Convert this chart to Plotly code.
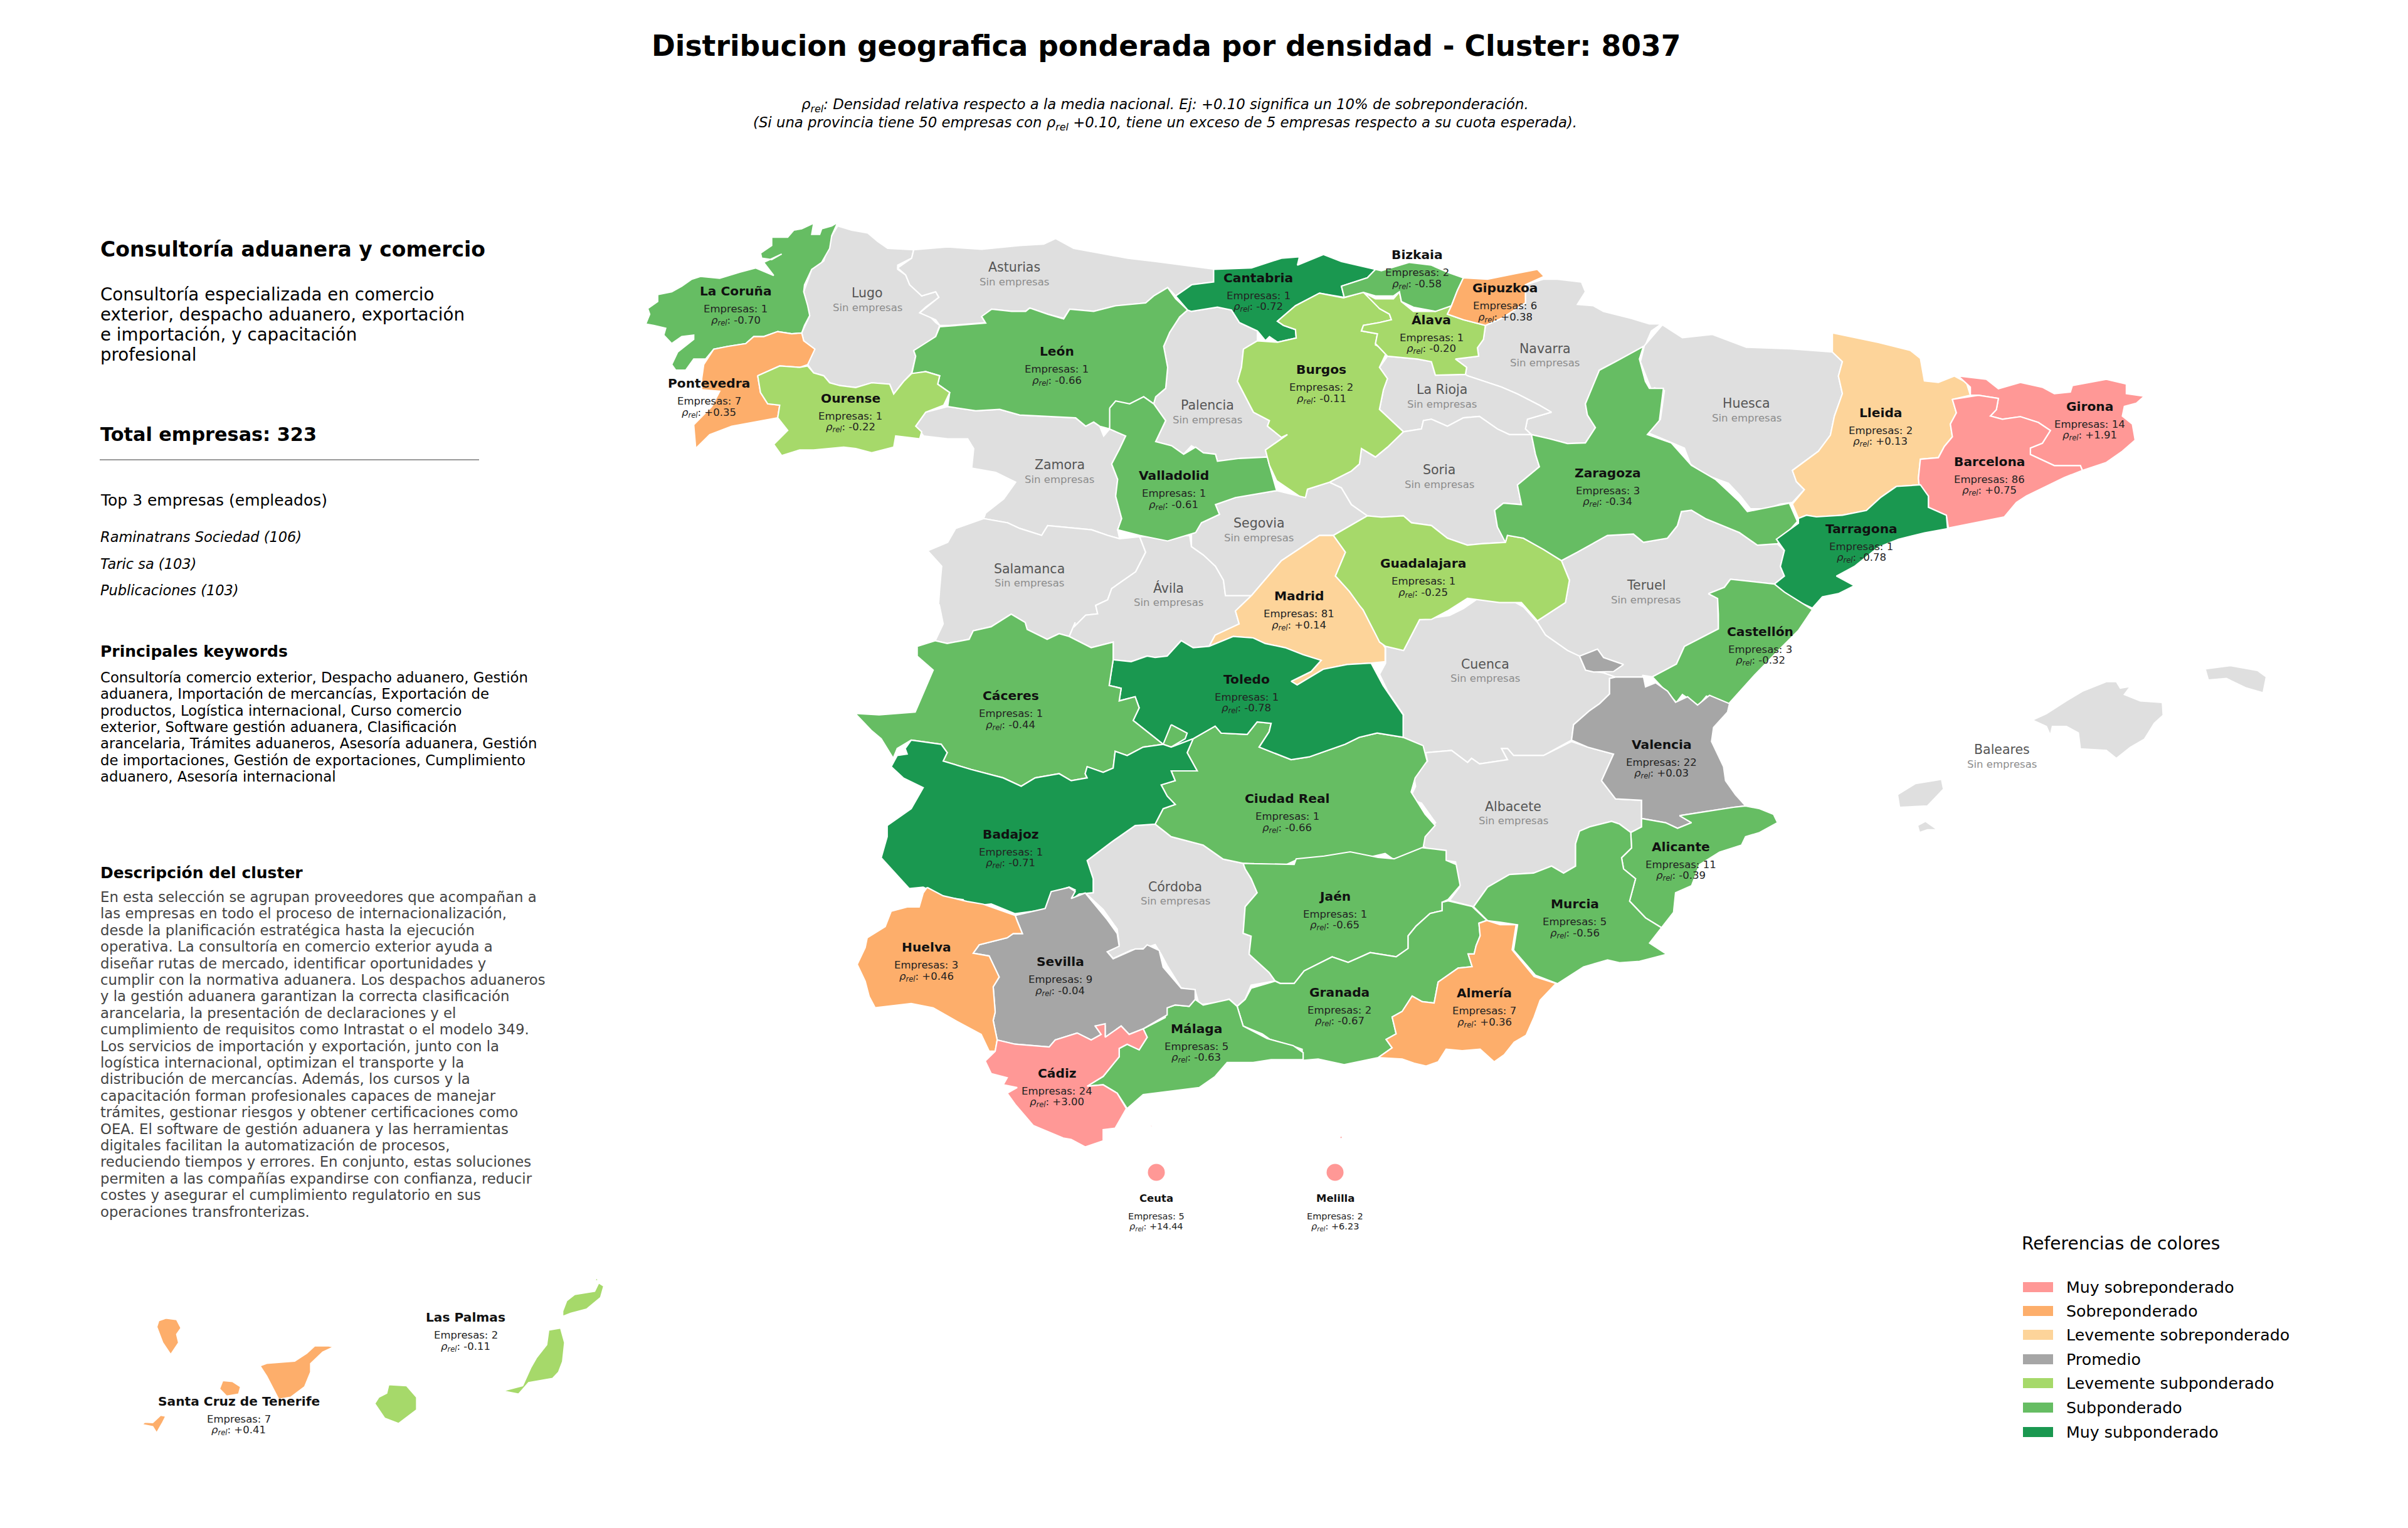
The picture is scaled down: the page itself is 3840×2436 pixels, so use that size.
"""Distribucion geografica por provincia, cluster 8037"""
import plotly.graph_objects as go

FONT = "DejaVu Sans"
W, H = 3840, 2436


# outlines were traced on enlarged sheets of the map, each sheet has its own origin and scale
def sheet(x0, y0, kx, ky):
    def conv(pts):
        return [(x0 + a * kx, y0 + b * ky) for a, b in pts]
    return conv


NW = sheet(950, 300, 0.6378, 0.4464)
N = sheet(1900, 300, 0.6378, 0.4464)
E = sheet(2600, 500, 0.6378, 0.5102)
C = sheet(1300, 950, 0.6378, 0.4464)
SE = sheet(2200, 950, 0.6378, 0.4464)
S = sheet(1300, 1350, 0.6378, 0.4464)
S2 = sheet(2000, 1300, 0.6378, 0.4464)
CAN = sheet(100, 2000, 0.6378, 0.3347)

# province outlines
la_coruna = NW([(605,122),(590,170),(585,215),(565,265),(540,290),(522,345),(520,370),(530,420),(535,455),(522,490),(515,517),(490,520),(455,512),(420,530),(395,530),(375,555),(330,565),(295,575),(275,610),(245,610),(225,650),(200,650),(190,630),(205,585),(245,540),(245,525),(215,530),(190,555),(170,525),(175,500),(145,490),(125,485),(135,450),(130,430),(155,405),(155,380),(190,370),(215,350),(240,325),(262,315),(310,322),(360,300),(400,285),(445,312),(420,265),(465,235),(440,255),(415,250),(412,232),(440,205),(440,175),(480,175),(495,150),(515,145),(545,125),(540,165),(560,165),(565,145),(590,135)])
lugo = NW([(605,135),(640,150),(680,160),(705,190),(730,215),(795,220),(790,250),(755,275),(755,290),(775,310),(785,345),(815,365),(815,385),(850,370),(858,390),(825,425),(810,445),(830,450),(850,480),(860,490),(850,530),(820,560),(795,580),(800,600),(790,660),(770,690),(745,735),(735,700),(690,695),(650,712),(610,705),(585,695),(570,670),(545,660),(530,630),(545,575),(520,545),(515,517),(535,455),(520,370),(540,290),(570,260),(590,170)])
asturias = NW([(795,220),(880,210),(965,218),(1060,205),(1120,200),(1150,180),(1195,215),(1270,235),(1330,250),(1400,262),(1470,275),(1550,290),(1545,335),(1490,345),(1450,385),(1430,355),(1395,385),(1375,410),(1300,420),(1245,440),(1185,432),(1170,465),(1130,450),(1085,428),(1075,440),(1040,440),(990,432),(965,460),(975,480),(885,490),(860,490),(850,470),(810,445),(858,390),(850,370),(815,385),(785,345),(775,310),(755,285),(790,250)])
leon = NW([(860,495),(975,482),(965,458),(990,432),(1040,440),(1075,440),(1085,428),(1130,450),(1170,467),(1185,432),(1245,440),(1300,420),(1375,410),(1395,385),(1430,355),(1450,395),(1480,435),(1460,460),(1435,515),(1420,565),(1430,640),(1425,715),(1400,745),(1395,770),(1370,745),(1330,775),(1315,790),(1290,785),(1285,860),(1260,850),(1245,835),(1225,850),(1200,820),(1130,815),(1060,810),(1010,790),(950,795),(880,780),(885,730),(855,700),(860,670),(825,655),(790,665),(800,600),(795,580),(850,530)])
ourense = NW([(405,670),(460,635),(510,640),(530,635),(545,660),(570,670),(585,695),(610,705),(650,712),(690,695),(735,700),(745,735),(770,690),(790,662),(825,655),(860,670),(855,700),(885,730),(870,775),(825,800),(800,850),(815,870),(810,895),(750,885),(745,925),(690,945),(650,930),(620,925),(545,935),(510,935),(465,955),(445,915),(480,865),(455,820),(460,775),(430,770),(412,730)])
pontevedra = NW([(515,517),(520,545),(548,575),(530,630),(510,640),(460,635),(405,670),(412,730),(430,770),(460,775),(455,820),(400,835),(340,850),(285,880),(250,930),(245,845),(290,780),(310,725),(265,720),(265,680),(270,630),(295,575),(330,565),(375,555),(395,530),(420,530),(455,512),(490,520)])
zamora = NW([(825,800),(880,780),(950,795),(1010,790),(1060,810),(1130,815),(1200,820),(1225,850),(1245,835),(1260,850),(1270,885),(1285,860),(1325,885),(1310,930),(1290,985),(1305,1040),(1300,1100),(1315,1180),(1305,1220),(1310,1252),(1280,1240),(1240,1220),(1200,1215),(1130,1205),(1115,1240),(1060,1215),(1030,1195),(970,1180),(975,1160),(1020,1110),(1050,1050),(1000,1015),(940,1000),(945,930),(930,895),(880,895),(820,885),(800,850)])
salamanca = NW([(970,1180),(1030,1195),(1060,1215),(1115,1240),(1130,1205),(1200,1215),(1240,1220),(1280,1240),(1310,1252),(1360,1245),(1375,1300),(1350,1370),(1290,1430),(1280,1470),(1250,1490),(1255,1520),(1225,1525),(1195,1568)]) + C([(650,95),(635,145),(610,135),(580,155),(530,120),(525,95),(490,65),(440,110),(395,125),(385,155),(330,170),(300,160),(320,100),(310,30)]) + NW([(855,1530),(860,1430),(865,1350),(830,1295),(880,1265),(900,1215)])
avila = NW([(1360,1245),(1375,1300),(1350,1370),(1290,1430),(1280,1470),(1250,1490),(1255,1520),(1225,1525),(1195,1568)]) + C([(650,95),(635,145),(690,185),(745,165),(745,228),(790,235),(830,215),(850,220),(880,215),(915,160),(945,185),(985,180),(1000,140),(1060,100)]) + N([(110,1510),(150,1455),(85,1455),(80,1400),(60,1350),(30,1310),(0,1280)]) + NW([(1485,1240)])
valladolid = NW([(1285,785),(1300,760),(1335,770),(1370,745),(1395,770),(1425,830),(1400,905),(1440,920),(1470,950),(1500,925)]) + N([(30,945),(60,950),(65,975),(120,965),(190,960),(195,990),(213,1080),(110,1105),(60,1130),(70,1165),(25,1195)]) + NW([(1500,1230),(1430,1260),(1360,1240),(1305,1220),(1315,1180),(1300,1100),(1305,1040),(1290,985),(1310,930),(1325,885),(1285,860)])
palencia = NW([(1480,435)]) + N([(0,440),(65,425),(100,435),(120,480),(165,510),(165,545),(130,575),(125,640),(115,690),(135,745),(155,800),(195,830),(190,850),(225,890),(240,880),(185,935),(190,960),(120,965),(65,975),(60,950),(30,945),(0,920)]) + NW([(1470,950),(1440,920),(1400,905),(1425,830),(1395,770),(1400,745),(1425,715),(1430,640),(1420,565),(1435,515),(1460,460)])
cantabria = NW([(1450,385),(1490,345),(1545,335),(1545,290)]) + N([(55,290),(150,285),(225,250),(270,245),(265,275),(330,237),(375,262),(460,290),(440,320),(375,350),(382,390),(320,375),(260,420),(215,475),(230,490),(260,505),(262,535),(215,550),(195,530),(185,545),(165,510),(120,480),(100,435),(65,425),(0,440)]) + NW([(1480,435)])
burgos = N([(320,375),(380,392),(430,372),(460,395),(470,430),(495,450),(500,470),(470,480),(430,490),(425,510),(465,520),(460,560),(490,580),(470,640),(490,680),(480,720),(470,790),(530,870),(490,925),(460,960),(425,930),(420,985),(400,1010),(345,1050),(290,1075),(285,1105),(270,1100),(213,1045),(195,990),(185,935),(240,880),(225,890),(190,850),(195,830),(155,800),(135,745),(115,690),(125,640),(130,575),(165,545),(215,550),(262,535),(260,505),(230,490),(215,475),(260,420)])
alava = N([(430,372),(460,395),(505,395),(520,370),(525,405),(555,440),(610,440),(650,420),(640,450),(680,470),(735,490),(730,540),(715,570),(718,600),(660,610),(688,640),(685,665),(610,668),(600,620),(565,610),(490,600),(460,555),(465,520),(425,510),(430,490),(470,480),(500,470),(495,450),(470,430)])
bizkaia = N([(375,350),(440,320),(460,290),(475,295),(545,265),(600,275),(640,300),(680,320),(665,365),(650,420),(610,440),(555,425),(525,405),(520,370),(505,385),(460,385),(430,372),(382,390)])
gipuzkoa = N([(680,320),(740,325),(810,305),(865,290),(882,315),(835,345),(835,410),(775,465),(735,490),(680,470),(640,450),(650,420),(665,365)])
navarra = N([(835,345),(880,325),(915,325),(975,335),(985,370),(965,415),(1005,420),(1030,440),(1100,465),(1145,485),(1175,485),(1150,510),(1135,560),(1120,580),(1060,620),(1020,650),(1000,720),(985,770),(990,810),(1010,855),(985,910),(940,912),(895,895),(850,880),(835,860),(840,825),(900,800),(870,775),(815,735),(775,710),(690,670),(685,665),(688,640),(660,610),(718,600),(715,570),(730,540),(735,490),(775,465),(835,410)])
la_rioja = N([(490,600),(565,610),(600,620),(610,668),(685,665),(690,670),(775,710),(815,735),(870,775),(900,800),(840,825),(835,860),(850,880),(795,880),(765,860),(720,815),(680,820),(640,850),(600,825),(580,830),(575,860),(530,870),(470,790),(480,720),(490,680),(470,640)])
soria = N([(530,870),(575,860),(580,830),(600,825),(640,850),(680,820),(720,815),(765,860),(795,880),(850,880),(860,950),(870,995),(815,1060),(825,1130),(780,1125),(758,1150),(765,1210),(790,1240),(785,1265),(725,1270),(690,1275),(640,1250),(600,1205),(550,1195),(530,1170),(475,1175),(440,1170),(400,1130),(375,1070),(345,1050),(400,1010),(420,985),(425,930),(460,960),(490,925)])
segovia = N([(213,1080),(270,1100),(285,1105),(290,1075),(345,1050),(375,1070),(400,1130),(440,1170),(355,1240),(320,1240),(225,1330),(150,1455),(85,1455),(80,1400),(60,1350),(30,1310),(0,1280),(0,1225),(25,1195),(70,1165),(60,1130),(110,1105)])
madrid = N([(320,1240),(355,1240),(385,1300),(360,1385),(395,1440),(420,1490)]) + C([(1370,50),(1395,120),(1425,185),(1425,235),(1390,240),(1330,245),(1270,262),(1205,318),(1190,305),(1240,270),(1265,230),(1220,210),(1175,185),(1125,170),(1095,150),(1045,145),(985,180),(1000,140),(1060,100)]) + N([(110,1510),(150,1455),(225,1330)])
guadalajara = N([(355,1240),(440,1170),(475,1175),(530,1170),(550,1195),(600,1205),(640,1250),(690,1275),(725,1270),(785,1265),(790,1240),(830,1250),(880,1290),(925,1330),(945,1400),(935,1480),(865,1545),(825,1480),(770,1480),(690,1465),(640,1510),(600,1540)]) + SE([(100,85),(60,195),(15,180),(0,165)]) + C([(1395,120),(1370,50)]) + N([(420,1490),(395,1440),(360,1385),(385,1300)])
cuenca = SE([(100,85),(175,70),(210,45),(250,5),(310,0),(360,40),(395,95),(415,140),(470,195),(500,215),(515,265),(560,275),(590,290),(575,295),(575,350),(550,385),(525,410),(485,460),(480,515),(410,570),(335,570),(320,545),(305,545),(320,585),(250,600),(230,580),(220,595),(180,552),(115,560),(70,545),(50,505),(60,425),(20,340),(0,280),(15,240),(15,180),(60,195)])
teruel = N([(925,1330),(1040,1240),(1105,1235),(1130,1265),(1190,1250),(1215,1205),(1225,1155),(1250,1150),(1285,1180),(1370,1230),(1415,1275),(1465,1270)]) + E([(385,740),(375,790),(385,820),(360,845),(250,830),(235,855),(195,875),(218,890),(220,985),(135,1040),(115,1095),(55,1135),(30,1130)]) + SE([(660,290),(590,290),(560,275),(515,265),(470,195),(415,140),(395,95)]) + N([(865,1545),(935,1480),(945,1400)])
zaragoza = N([(850,880),(895,895),(940,912),(985,910),(1010,855),(990,810),(985,770),(1000,720),(1020,650),(1060,620),(1130,565),(1120,610),(1135,690),(1145,715),(1180,715),(1170,830),(1140,880),(1200,910),(1250,990),(1310,1040),(1370,1120),(1390,1155),(1440,1140),(1495,1125),(1515,1190),(1465,1270),(1415,1275),(1370,1230),(1285,1180),(1250,1150),(1225,1155),(1215,1205),(1190,1250),(1130,1265),(1105,1235),(1040,1240),(965,1300),(925,1330),(880,1290),(830,1250),(790,1240),(785,1265),(765,1210),(758,1150),(780,1125),(825,1130),(815,1060),(870,995),(860,950)])
huesca = E([(80,35),(130,75),(205,65),(290,105),(400,110),(505,120),(530,150),(520,195),(530,250),(510,320),(500,380),(470,430),(405,490),(415,525),(435,550),(405,590),(375,595),(340,610),(300,610),(275,570),(245,530),(190,505),(150,470),(135,420),(40,370),(75,330),(85,240),(60,232),(30,285),(50,230),(25,150),(35,100)])
lleida = E([(505,60),(560,75),(620,90),(700,115),(725,140),(735,210),(770,215),(810,195),(840,215),(850,255),(805,268),(815,310),(800,345),(805,385),(785,415),(770,450),(725,455),(720,515),(725,535),(665,540),(625,575),(590,615),(530,630),(465,635),(440,630),(420,640),(405,595),(435,550),(415,525),(405,490),(470,430),(500,380),(510,320),(530,250),(520,195),(530,150),(505,120)])
girona = E([(820,195),(890,205),(920,235),(975,215),(1030,230),(1060,250),(1100,245),(1105,225),(1190,205),(1240,220),(1240,250),(1285,258),(1265,280),(1235,290),(1230,320),(1255,345),(1262,395),(1230,430),(1190,465),(1130,490),(1125,475),(1060,475),(1000,440),(1000,420),(1030,405),(1050,365),(1020,340),(975,322),(930,330),(900,320),(915,300),(920,265),(870,255),(850,255),(850,230)])
barcelona = E([(805,268),(850,258),(870,255),(920,265),(915,300),(900,320),(930,330),(975,322),(1020,340),(1050,365),(1030,405),(1000,420),(1000,440),(1060,475),(1125,475),(1130,490),(1085,512),(990,570),(965,590),(935,635),(795,670),(790,630),(745,605),(745,570),(722,540),(720,515),(725,455),(770,450),(785,415),(805,385),(800,345),(815,310)])
tarragona = E([(665,540),(725,535),(745,570),(745,605),(790,630),(793,672),(735,685),(670,705),(620,730),(560,790),(515,820),(560,850),(520,875),(480,885),(455,920),(385,880),(360,845),(385,820),(375,790),(385,740),(365,705),(420,655),(420,640),(440,630),(465,635),(530,630),(590,615),(625,575)])
castellon = E([(250,830),(360,845),(385,870),(455,925),(420,990),(380,1040),(310,1130),(245,1220),(190,1195),(170,1225),(130,1190),(115,1215),(55,1135),(115,1095),(135,1040),(220,985),(220,940),(218,890),(195,875),(235,855)])
valencia = SE([(590,290),(660,290),(665,325),(690,310),(720,340),(740,380),(770,360),(795,390),(825,355),(875,385),(870,415),(835,470),(830,520),(860,610),(865,660),(890,710),(915,750),(885,755),(815,770),(750,785),(780,810),(745,830),(715,810),(655,795),(655,730),(590,725),(555,660),(585,565),(520,540),(480,515),(485,460),(525,410),(550,385),(575,350),(575,295)])
ademuz = SE([(500,215),(545,190),(560,220),(610,245),(585,270),(535,272),(515,265)])
alicante = SE([(655,795),(715,810),(745,830),(780,810),(750,785),(815,770),(885,755),(915,750),(950,760),(985,780),(995,810),(950,845),(915,860),(905,890),(850,915),(800,960),(780,1035),(740,1060),(735,1130),(705,1185),(665,1150),(625,1090),(640,1010),(610,975),(605,935),(630,900),(628,845),(655,825)])
murcia = SE([(628,845),(630,900),(605,935),(610,975),(640,1010),(625,1090),(665,1150),(705,1185),(675,1240),(718,1280),(650,1305),(600,1310),(570,1300),(510,1325),(445,1385),(390,1355),(335,1265),(345,1175),(300,1165),(270,1160),(235,1110),(270,1040),(325,995),(385,990),(430,965),(460,990),(490,965),(490,885),(500,840),(525,825),(580,805),(600,815)])
albacete = SE([(115,560),(180,552),(220,595),(230,580),(250,600),(320,585),(305,545),(320,545),(335,570),(410,570),(480,520),(520,540),(585,565),(555,660),(590,725),(655,730),(655,825),(628,845),(600,815),(580,805),(525,825),(500,840),(490,885),(490,965),(460,990),(430,965),(385,990),(325,995),(270,1040),(235,1110),(175,1088),(200,1040),(190,950),(165,945),(110,895),(105,860),(140,810),(105,740),(75,725),(90,680),(85,640),(120,590)])
ciudad_real = C([(945,510),(1000,465),(1015,490),(1080,495),(1105,450),(1140,455),(1135,485),(1110,540),(1190,585),(1235,575),(1325,530),(1360,505),(1405,490),(1470,505),(1520,535),(1530,590),(1500,650),(1490,700),(1525,780),(1550,820),(1525,860),(1520,900),(1450,945),(1425,920),(1380,935),(1335,920),(1300,950),(1250,950),(1200,945),(1170,965),(1070,955),(1020,940),(970,890),(890,860),(850,815),(870,760),(900,745),(880,715),(865,675),(900,660),(890,625),(955,625),(930,560)])
toledo = C([(745,228),(790,235),(830,215),(850,220),(880,215),(915,160),(945,185),(985,180),(1045,145),(1095,150),(1125,170),(1175,185),(1220,210),(1265,230),(1240,270),(1190,305),(1205,318),(1270,262),(1330,245),(1390,240),(1420,320),(1470,425),(1470,505),(1405,490),(1360,505),(1325,530),(1235,575),(1190,585),(1110,540),(1135,485),(1140,455),(1105,450),(1080,495),(1015,490),(1000,465),(945,510),(890,540),(870,530),(795,445),(810,400),(800,360),(760,375),(765,330),(735,320)])
caceres = C([(100,420),(160,425),(250,415),(295,265),(255,215),(255,180),(300,160),(330,170),(385,155),(395,125),(440,110),(490,65),(525,95),(530,120),(580,155),(610,135),(635,145),(690,185),(745,165),(745,228),(735,320),(765,330),(760,375),(800,360),(810,400),(795,445),(870,530),(820,540),(780,570),(750,555),(745,615),(720,630),(680,610),(675,635),(680,650),(640,660),(610,635),(550,650),(515,680),(470,650),(390,620),(320,590),(330,560),(315,530),(240,515),(205,545),(195,580),(165,510),(140,480)])
caceres_enclave = C([(890,460),(930,490),(925,510),(890,540),(870,530)])
badajoz = C([(240,515),(315,530),(330,560),(320,590),(390,620),(470,650),(515,680),(550,650),(610,635),(640,660),(680,650),(675,635),(680,610),(720,630),(745,615),(750,555),(780,570),(820,540),(870,530),(890,540),(945,510),(930,560),(955,625),(890,625),(900,660),(865,675),(880,715),(900,745),(870,760),(850,815),(800,820),(740,880),(680,945),(695,1010),(695,1060),(660,1065),(640,1085),(650,1050),(635,1040),(590,1060),(575,1120),(500,1135),(440,1100),(380,1110),(370,1085),(320,1075),(270,1040),(235,1045),(165,935),(180,860),(180,820),(240,760),(270,685),(220,650),(190,610),(205,570),(230,565),(225,545)])
cordoba = C([(850,815),(890,860),(970,890),(1020,940),(1070,955),(1075,975),(1090,1010),(1105,1060),(1075,1110),(1070,1205),(1090,1215),(1085,1280),(1135,1345),(1150,1375),(1090,1390),(1075,1440),(1055,1465),(1035,1440),(1015,1450),(960,1460),(950,1410),(915,1400),(880,1320),(865,1280),(850,1245),(820,1260),(790,1265),(745,1295),(730,1270),(760,1245),(755,1190),(720,1120),(675,1060),(695,1060),(695,1010),(680,945),(740,880),(800,820)])
jaen = S2([(0,172),(100,175),(105,155),(175,145),(240,130),(310,150),(350,155),(420,115),(480,125),(480,160),(505,175),(515,250),(485,300),(470,310),(470,340),(440,350),(405,395),(385,430),(385,475),(355,505),(290,490),(235,525),(195,505),(125,555),(100,600),(65,600)]) + C([(1150,1375),(1135,1345),(1085,1280),(1090,1215),(1070,1205),(1075,1110),(1105,1060),(1090,1010),(1075,975),(1070,955)])
granada = S2([(485,305),(545,325),(582,375),(562,385),(565,430),(555,465),(550,495),(535,495),(545,540),(510,545),(460,595),(450,670),(420,665),(395,645),(370,700),(345,720),(355,780),(330,800),(345,830),(310,865),(225,890),(160,870),(120,875),(120,835),(100,825),(40,800),(20,780)]) + S([(1070,640),(1055,570),(1075,545),(1090,505),(1150,480)]) + S2([(65,600),(100,600),(125,555),(195,505),(235,525),(290,490),(355,505),(385,475),(385,430),(405,395),(440,350),(470,340),(470,310)])
almeria = S2([(582,375),(615,390),(655,390),(645,480),(700,575),(755,600),(715,660),(700,720),(680,785),(650,810),(625,855),(600,880),(565,835),(520,840),(480,835),(460,880),(430,895),(400,885),(370,870),(310,865),(345,830),(330,800),(355,780),(345,720),(370,700),(395,645),(420,665),(450,670),(460,595),(510,545),(545,540),(535,495),(550,495),(555,465),(565,430),(562,385)])
malaga = S([(820,650),(875,610),(880,575),(900,565),(935,570),(950,545),(970,565),(1035,545),(1055,570),(1070,640),(1130,685),(1195,710),(1220,735),(1220,760),(1140,760),(1095,770),(1030,770),(1000,820),(960,860),(880,875),(820,885),(780,935),(755,880),(720,850),(680,855),(720,820),(760,750),(760,720),(780,705),(810,725),(830,680)])
sevilla = S([(500,245),(575,220),(590,160),(635,145),(650,160),(640,185),(675,165),(730,260),(755,310),(760,355),(730,375),(745,400),(800,365),(820,365),(830,350),(860,370),(870,430),(915,505),(950,510),(950,545),(935,570),(900,565),(880,575),(880,600),(820,650),(785,670),(765,640),(725,680),(725,640),(700,640),(715,670),(690,690),(655,665),(600,690),(585,715),(500,705),(455,690),(445,620),(450,590),(445,500),(460,465),(435,390),(395,380),(410,350),(480,325),(495,310),(518,310),(505,265)])
huelva = S([(280,145),(320,175),(380,195),(420,205),(440,215),(500,245),(505,265),(518,310),(495,310),(480,325),(410,350),(395,380),(435,390),(460,465),(445,500),(450,590),(445,620),(455,690),(450,730),(435,730),(415,670),(350,620),(295,575),(240,560),(150,575),(135,535),(125,480),(105,420),(125,360),(130,325),(175,285),(190,230),(230,215),(260,215),(270,165)])
cadiz = S([(455,690),(500,705),(585,715),(600,690),(655,665),(690,690),(715,670),(700,640),(725,632),(725,680),(765,640),(785,670),(820,650),(830,680),(810,725),(780,705),(760,720),(760,750),(720,820),(680,855),(720,850),(755,880),(778,935),(750,1005),(720,1010),(720,1050),(675,1072),(640,1045),(620,1040),(545,995),(500,920),(480,880),(505,860),(470,850),(480,825),(440,810),(425,765),(450,730)])
ceuta = S([(833,990),(845,996),(840,1001)])
melilla = S([(1315,1030),(1319,1038),(1314,1045),(1311,1038)])
mallorca = E([(1005,1270),(1040,1250),(1090,1210),(1130,1180),(1190,1150),(1215,1150),(1225,1170),(1250,1165),(1235,1190),(1275,1210),(1330,1215),(1332,1255),(1310,1280),(1285,1330),(1250,1355),(1215,1390),(1190,1365),(1125,1360),(1120,1310),(1090,1290),(1055,1290),(1050,1318),(1040,1290)])
menorca = E([(1437,1110),(1500,1100),(1568,1115),(1590,1135),(1582,1185),(1540,1170),(1490,1140),(1445,1145)])
ibiza = SE([(1295,710),(1340,670),(1405,655),(1410,690),(1370,750),(1300,755)])
formentera = SE([(1345,820),(1365,805),(1395,835),(1370,835),(1350,845)])
la_palma = CAN([(258,303),(285,310),(296,350),(285,380),(290,420),(270,477),(250,420),(235,345),(240,315)])
gomera = CAN([(400,600),(425,605),(445,630),(440,665),(410,675),(392,640)])
tenerife = CAN([(493,530),(510,518),(580,508),(610,470),(630,435),(665,435),(678,440),(650,465),(620,520),(620,560),(605,630),(570,680),(540,690),(510,580)])
el_hierro = CAN([(245,765),(258,770),(250,800),(235,850),(225,820),(198,810),(205,798),(225,800)])
gran_canaria = CAN([(815,620),(860,625),(885,680),(885,740),(840,805),(805,780),(780,710),(790,680),(810,660)])
fuerteventura = CAN([(1215,360),(1245,350),(1255,420),(1250,510),(1240,560),(1225,590),(1165,610),(1140,665),(1100,650),(1150,625),(1170,540),(1185,490),(1210,430)])
lanzarote = CAN([(1340,135),(1353,150),(1345,205),(1310,260),(1270,280),(1250,295),(1250,270),(1260,220),(1280,190),(1330,175)])
graciosa = CAN([(1330,125),(1335,110),(1340,125)])

# legend classes
classes = ["Muy sobreponderado", "Sobreponderado", "Levemente sobreponderado", "Promedio",
           "Levemente subponderado", "Subponderado", "Muy subponderado"]
class_colors = ["#FF9896", "#FDAE6B", "#FDD49A", "#A6A6A6", "#A6D96A", "#66BD63", "#1A9850"]
no_data_color = "#DFDFDF"

# provinces without companies
empty_names = ["Lugo", "Asturias", "Zamora", "Salamanca", "Ávila", "Palencia", "Segovia", "Navarra", "La Rioja",
               "Soria", "Huesca", "Teruel", "Cuenca", "Albacete", "Córdoba", "Baleares"]
empty_rings = [[lugo], [asturias], [zamora], [salamanca], [avila], [palencia], [segovia], [navarra], [la_rioja],
               [soria], [huesca], [teruel], [cuenca], [albacete], [cordoba], [mallorca, menorca, ibiza, formentera]]
empty_labels = [NW([(679,375)]), NW([(1046,283)]), NW([(1160,988)]), NW([(1084,1359)]), NW([(1433,1428)]),
                [(1925,646)], N([(169,1197)]), N([(884,573)]), N([(627,720)]), N([(620,1006)]), N([(1388,769)]),
                N([(1136,1418)]), SE([(264,244)]), SE([(334,752)]), C([(900,1039)]), E([(929,1363)])]

# provinces with companies
names = ["La Coruña", "León", "Pontevedra", "Ourense", "Valladolid", "Cantabria", "Burgos", "Álava", "Bizkaia",
         "Gipuzkoa", "Madrid", "Guadalajara", "Zaragoza", "Lleida", "Girona", "Barcelona", "Tarragona", "Castellón",
         "Valencia", "Alicante", "Murcia", "Ciudad Real", "Toledo", "Cáceres", "Badajoz", "Jaén", "Granada",
         "Almería", "Málaga", "Sevilla", "Huelva", "Cádiz", "Las Palmas", "Santa Cruz de Tenerife"]
empresas = [1, 1, 7, 1, 1, 1, 2, 1, 2, 6, 81, 1, 3, 2, 14, 86, 1, 3, 22, 11, 5, 1, 1, 1, 1, 1, 2, 7, 5, 9, 3, 24, 2, 7]
rho = ["-0.70", "-0.66", "+0.35", "-0.22", "-0.61", "-0.72", "-0.11", "-0.20", "-0.58", "+0.38", "+0.14", "-0.25",
       "-0.34", "+0.13", "+1.91", "+0.75", "-0.78", "-0.32", "+0.03", "-0.39", "-0.56", "-0.66", "-0.78", "-0.44",
       "-0.71", "-0.65", "-0.67", "+0.36", "-0.63", "-0.04", "+0.46", "+3.00", "-0.11", "+0.41"]
class_of = [5, 5, 1, 4, 5, 6, 4, 4, 5, 1, 2, 4, 5, 2, 0, 0, 6, 5, 3, 5, 5, 5, 6, 5, 6, 5, 5, 1, 5, 3, 1, 0, 4, 1]
rings = [[la_coruna], [leon], [pontevedra], [ourense], [valladolid], [cantabria], [burgos], [alava], [bizkaia],
         [gipuzkoa], [madrid], [guadalajara], [zaragoza], [lleida], [girona], [barcelona], [tarragona],
         [castellon], [valencia, ademuz], [alicante], [murcia], [ciudad_real], [toledo], [caceres, caceres_enclave],
         [badajoz], [jaen], [granada], [almeria], [malaga], [sevilla], [huelva], [cadiz],
         [gran_canaria, fuerteventura, lanzarote, graciosa], [la_palma, gomera, tenerife, el_hierro]]
labels = [NW([(350,368)]), NW([(1153,583)]), NW([(283,697)]), NW([(637,750)]), NW([(1445,1026)]), N([(167,320)]),
          N([(325,648)]), N([(600,470)]), N([(564,238)]), N([(784,357)]), N([(269,1457)]), N([(580,1340)]),
          N([(1041,1016)]), E([(625,309)]), E([(1149,290)]), E([(898,462)]), E([(577,672)]), E([(325,993)]),
          SE([(705,530)]), SE([(754,895)]), SE([(488,1100)]), C([(1180,724)]), C([(1078,297)]), C([(489,357)]),
          C([(489,851)]), C([(1299,1073)]), C([(1311,1415)]), SE([(262,1418)]), S([(953,649)]), C([(613,1306)]),
          C([(278,1255)]), S([(605,808)]), CAN([(1008,300)]), CAN([(440,698)])]

# the two autonomous cities get a dot under the peninsula
city_names = ["Ceuta", "Melilla"]
city_empresas = [5, 2]
city_rho = ["+14.44", "+6.23"]
city_x = [1844, 2129]
city_y = [1869, 1869]

# left panel
sector = "Consultoría aduanera y comercio"
sector_lines = ["Consultoría especializada en comercio", "exterior, despacho aduanero, exportación",
                "e importación, y capacitación", "profesional"]
total = "Total empresas: 323"
top_title = "Top 3 empresas (empleados)"
top_companies = ["Raminatrans Sociedad (106)", "Taric sa (103)", "Publicaciones (103)"]
keywords = ["Consultoría comercio exterior, Despacho aduanero, Gestión",
            "aduanera, Importación de mercancías, Exportación de",
            "productos, Logística internacional, Curso comercio",
            "exterior, Software gestión aduanera, Clasificación",
            "arancelaria, Trámites aduaneros, Asesoría aduanera, Gestión",
            "de importaciones, Gestión de exportaciones, Cumplimiento",
            "aduanero, Asesoría internacional"]
description = ["En esta selección se agrupan proveedores que acompañan a",
               "las empresas en todo el proceso de internacionalización,",
               "desde la planificación estratégica hasta la ejecución",
               "operativa. La consultoría en comercio exterior ayuda a",
               "diseñar rutas de mercado, identificar oportunidades y",
               "cumplir con la normativa aduanera. Los despachos aduaneros",
               "y la gestión aduanera garantizan la correcta clasificación",
               "arancelaria, la presentación de declaraciones y el",
               "cumplimiento de requisitos como Intrastat o el modelo 349.",
               "Los servicios de importación y exportación, junto con la",
               "logística internacional, optimizan el transporte y la",
               "distribución de mercancías. Además, los cursos y la",
               "capacitación forman profesionales capaces de manejar",
               "trámites, gestionar riesgos y obtener certificaciones como",
               "OEA. El software de gestión aduanera y las herramientas",
               "digitales facilitan la automatización de procesos,",
               "reduciendo tiempos y errores. En conjunto, estas soluciones",
               "permiten a las compañías expandirse con confianza, reducir",
               "costes y asegurar el cumplimiento regulatorio en sus",
               "operaciones transfronterizas."]

RHO = "<i>ρ<sub>rel</sub></i>"
LEFT = 158
fig = go.Figure()


def add_region(name, polys, color):
    xs, ys = [], []
    for poly in polys:
        xs += [p[0] for p in poly] + [poly[0][0], None]
        ys += [p[1] for p in poly] + [poly[0][1], None]
    fig.add_trace(go.Scatter(x=xs, y=ys, name=name, mode="lines", fill="toself", fillcolor=color,
                             line=dict(color="white", width=2.2), showlegend=False, hoverinfo="name"))


def text(x, y, s, size, color="#000000", anchor="left", weight="normal", style="normal"):
    fig.add_annotation(x=x, y=y, xref="x", yref="y", text=s, showarrow=False, xanchor=anchor, yanchor="middle",
                       font=dict(family=FONT, size=size, color=color, weight=weight, style=style))


for name, polys in zip(empty_names, empty_rings):
    add_region(name, polys, no_data_color)
for i, name in enumerate(names):
    add_region(name, rings[i], class_colors[class_of[i]])
add_region("Ceuta", [ceuta], class_colors[0])
add_region("Melilla", [melilla], class_colors[0])

fig.add_trace(go.Scatter(x=city_x, y=city_y, mode="markers", showlegend=False, hoverinfo="skip",
                         marker=dict(size=27, color=class_colors[0], line=dict(width=0))))

# province labels
for name, pos in zip(empty_names, empty_labels):
    lx, ly = pos[0]
    text(lx, ly, name, 20.5, "#555555", "center")
    text(lx, ly + 23, "Sin empresas", 16.5, "#8c8c8c", "center")
for i, name in enumerate(names):
    lx, ly = labels[i][0]
    text(lx, ly, name, 20.2, "#111111", "center", weight="bold")
    text(lx, ly + 28.5, f"Empresas: {empresas[i]}", 16.5, "#222222", "center")
    text(lx, ly + 47, f"{RHO}: {rho[i]}", 16.5, "#222222", "center")
for i, name in enumerate(city_names):
    text(city_x[i], 1910, name, 16.5, "#111111", "center", weight="bold")
    text(city_x[i], 1939, f"Empresas: {city_empresas[i]}", 14.5, "#222222", "center")
    text(city_x[i], 1956, f"{RHO}: {city_rho[i]}", 14.5, "#222222", "center")

# titles
text(1859, 73, "Distribucion geografica ponderada por densidad - Cluster: 8037", 45.6, anchor="center", weight="bold")
text(1858, 168, "ρ<sub>rel</sub>: Densidad relativa respecto a la media nacional. Ej: +0.10 significa un 10% de sobreponderación.",
     22.8, anchor="center", style="italic")
text(1858, 197, "(Si una provincia tiene 50 empresas con ρ<sub>rel</sub> +0.10, tiene un exceso de 5 empresas respecto a su cuota esperada).",
     22.8, anchor="center", style="italic")

# left panel
text(LEFT, 397, sector, 33, weight="bold")
for i, line in enumerate(sector_lines):
    text(LEFT, 469 + i * 32, line, 27.7)
text(LEFT, 692, total, 30.3, weight="bold")
fig.add_shape(type="line", x0=159, x1=764, y0=733, y1=733, line=dict(color="#999999", width=1.8))
text(LEFT, 797, top_title, 25)
for i, line in enumerate(top_companies):
    text(LEFT, 856 + i * 42.5, line, 22.5, style="italic")
text(LEFT, 1038, "Principales keywords", 25, weight="bold")
for i, line in enumerate(keywords):
    text(LEFT, 1080 + i * 26.3, line, 22.8)
text(LEFT, 1391, "Descripción del cluster", 25, weight="bold")
for i, line in enumerate(description):
    text(LEFT, 1430 + i * 26.4, line, 22.8, "#444444")

# colour legend
legend_y = [2052, 2090, 2128, 2167, 2205, 2244, 2283]
text(3222, 1982, "Referencias de colores", 28)
for label, color, ly in zip(classes, class_colors, legend_y):
    fig.add_shape(type="rect", x0=3226, x1=3274, y0=ly - 8, y1=ly + 8, fillcolor=color, line=dict(width=0))
    text(3293, ly, label, 25.3)

fig.update_xaxes(range=[0, W], visible=False, fixedrange=True)
fig.update_yaxes(range=[H, 0], visible=False, fixedrange=True)
fig.update_layout(width=W, height=H, margin=dict(l=0, r=0, t=0, b=0), plot_bgcolor="white", paper_bgcolor="white",
                  font=dict(family=FONT))

fig.write_html("out.html", config={"displayModeBar": False}, post_script="document.body.style.margin='0';")
